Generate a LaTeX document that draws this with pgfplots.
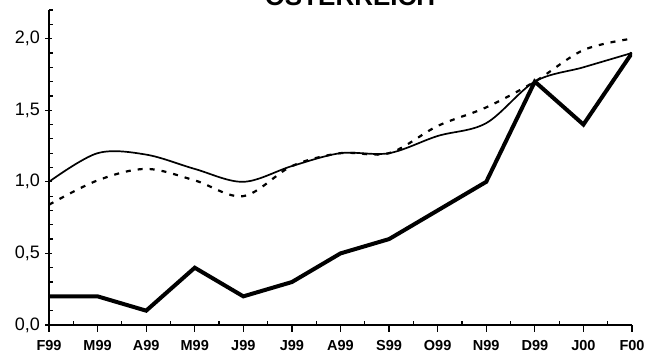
\documentclass[border=0pt]{standalone}
\usepackage{pgfplots}
\pgfplotsset{compat=1.18}
\usepackage{fontspec}
\setmainfont{Liberation Sans}
\begin{document}
\begin{tikzpicture}[x=1pt,y=1pt]
\begin{axis}[
  name=ax,
  scale only axis,
  width=583pt, height=315pt,
  xmin=0, xmax=12, ymin=0, ymax=2.2,
  axis x line=bottom, axis y line=left,
  axis line style={-, line width=1.3pt},
  xtick={0,...,12},
  xticklabels={F99,M99,A99,M99,J99,J99,A99,S99,O99,N99,D99,J00,F00},
  x tick style={line width=1.2pt, black},
  y tick style={line width=1.2pt, black},
  xtick align=outside,
  ytick={0,0.5,1,1.5,2},
  ytick align=center,
  major tick length=7pt,
  extra x ticks={0.5,1.5,2.5,3.5,4.5,5.5,6.5,7.5,8.5,9.5,10.5,11.5},
  extra x tick labels={},
  extra x tick style={xtick align=inside, major tick length=4pt},
  extra y ticks={0.1,0.2,0.3,0.4,0.6,0.7,0.8,0.9,1.1,1.2,1.3,1.4,1.6,1.7,1.8,1.9,2.1,2.2},
  extra y tick labels={},
  extra y tick style={ytick align=inside, major tick length=4pt},
  xticklabel style={font=\fontsize{14.5}{15}\selectfont\bfseries, yshift=-5pt, inner xsep=0pt},
  yticklabel style={font=\fontsize{18}{18}\selectfont, xshift=-2pt},
  /pgf/number format/.cd, use comma, fixed, fixed zerofill, precision=1, assume math mode=true,
]
\addplot[black, line width=1.7pt, smooth, tension=0.55] coordinates {
(0,1.0) (1,1.2) (2,1.19) (3,1.09) (4,1.0) (5,1.11) (6,1.2) (7,1.2) (8,1.32) (9,1.41) (10,1.7) (11,1.8) (12,1.9)};
\addplot[black, line width=2.2pt, dash pattern=on 5pt off 7pt, smooth, tension=0.55] coordinates {
(0,0.84) (1,1.01) (2,1.09) (3,1.01) (4,0.9) (5,1.11) (6,1.2) (7,1.2) (8,1.39) (9,1.52) (10,1.7) (11,1.92) (12,2.0)};
\addplot[black, line width=4pt, line join=miter, miter limit=2] coordinates {
(0,0.2) (1,0.2) (2,0.1) (3,0.4) (4,0.2) (5,0.3) (6,0.5) (7,0.6) (8,0.8) (9,1.0) (10,1.7) (11,1.4) (12,1.9)};
\end{axis}
\node[font=\fontsize{26}{26}\selectfont\bfseries, anchor=base] at ([xshift=301pt, yshift=319pt]ax.south west) {ÖSTERREICH};
\pgfresetboundingbox
\path[use as bounding box] ([xshift=-49pt,yshift=-38pt]ax.south west) rectangle ([xshift=14pt,yshift=10pt]ax.north east);
\end{tikzpicture}
\end{document}
